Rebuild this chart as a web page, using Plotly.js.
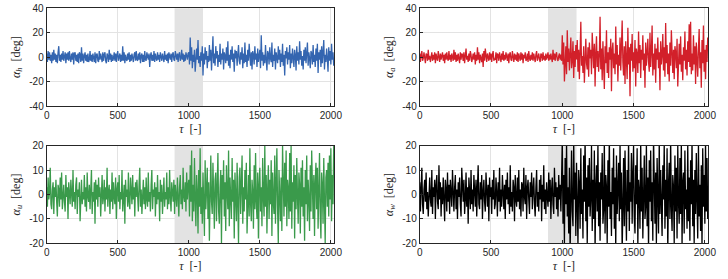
<!DOCTYPE html>
<html><head><meta charset="utf-8">
<script src="https://cdn.plot.ly/plotly-3.0.1.min.js"></script>
<style>html,body{margin:0;padding:0;background:#fff}#chart{width:728px;height:279px}</style>
</head><body><div id="chart"></div>
<script>
// sample spacing of the sampled series (tau index)
const tauStep = 5;
const shadeStart = 900, shadeEnd = 1100;
const xTicks = [0, 500, 1000, 1500, 2000];
const yTicksTop = [-40, -20, 0, 20, 40];
const yTicksBottom = [-20, -10, 0, 10, 20];

const alphaH = [
3,-4,5,-2,4,-3,2,-5,4,-3,6,-2,3,-4,2,-5,4,9,-3,2,
-4,3,-2,5,-3,1,4,-5,3,-2,4,-3,5,-1,-4,3,-2,4,-6,3,
4,-3,2,-4,3,-5,4,2,-4,8,-3,3,-5,1,4,-3,2,-4,3,-4,
-2,5,-3,2,-4,3,-1,-4,4,-5,2,3,-3,-4,5,-2,3,-3,-4,4,
-3,2,4,-3,-5,3,1,-4,6,-2,3,-4,2,-3,-1,4,-3,3,-4,2,
5,-3,1,3,-4,2,-3,9,-3,4,-5,2,-2,-3,3,-2,4,-4,2,-3,
3,-2,-4,2,4,-3,5,-2,-3,3,-2,4,-5,1,3,-4,2,-4,5,-2,
-3,4,2,-2,3,-8,1,4,-3,2,-3,5,-4,3,-1,-3,4,-2,2,-4,
4,-2,-3,3,-2,-4,5,-2,2,-3,3,-5,4,-1,-2,3,-4,2,4,-2,
-3,5,-1,-2,3,-4,2,4,-3,-1,6,-2,3,-4,2,-3,4,-1,-2,3,
4,-6,16,-3,8,-9,2,-4,6,-12,3,7,-2,14,-5,1,-8,4,-3,9,
-15,3,-6,8,-2,5,-9,1,-4,10,-3,6,-11,2,17,-5,3,-7,9,-1,
5,-8,2,-4,11,-6,3,-2,7,-10,4,1,-5,8,-3,13,-7,2,-9,6,
-2,9,-4,3,-12,6,-1,5,-7,2,10,-3,-6,4,-2,8,-9,3,-5,12,
-4,2,-8,6,-3,11,-1,-7,4,-10,5,2,-6,9,-2,3,-8,7,-4,1,
6,-9,18,-3,4,-7,2,-5,10,-2,-11,5,3,-6,8,-1,-4,12,-8,2,
-3,7,-10,4,1,-5,9,-2,6,-8,3,-4,11,-7,2,-15,5,-1,8,-6,
4,-2,10,-9,3,-5,7,-1,-8,6,2,-11,9,-3,4,-6,13,-2,5,-7,
1,-10,6,-3,8,-5,2,12,-7,4,-1,-9,5,3,-6,10,-4,2,-8,7,
-3,11,-13,4,-2,6,-8,9,-5,3,14,-10,2,-4,7,-1,-12,8,-3,5,
-6,11,-2,4,-7];

const alphaA = [
3,-4,2,5,-3,-1,4,-2,-5,3,2,-3,6,-2,1,-4,3,4,-3,2,
-2,4,-5,3,-1,-3,5,2,-4,3,-2,1,4,-3,2,-5,3,-2,4,-1,
-3,5,-2,2,-4,3,-1,-3,6,-2,4,-4,2,-3,3,-1,-5,4,-2,3,
2,-3,4,-5,3,7,-2,1,-4,3,-3,5,2,-4,-1,3,-2,4,-6,2,
-3,8,-2,4,-5,2,-1,-4,3,-8,5,-3,7,-2,-4,3,-1,-3,4,-2,
3,-4,2,5,-3,-1,-2,4,-5,3,2,-3,4,-1,-4,3,-2,5,-3,2,
-2,4,-1,-3,3,-5,2,4,-2,-3,5,-1,-4,3,-2,2,-3,4,-4,3,
-1,-3,4,-2,3,-5,2,-1,4,-3,-2,3,-4,5,-1,-3,2,-2,4,-3,
3,-2,-4,2,5,-3,1,3,-2,-4,3,2,-3,4,-2,1,-3,3,-2,2,
4,-3,2,-2,3,-1,-4,6,-2,3,-3,2,4,-2,-3,1,3,-2,2,-3,
18,-6,12,-20,3,9,-14,22,-4,7,-11,2,16,-9,-3,13,-17,5,-8,10,
-2,14,-12,6,-18,4,29,-7,1,-13,9,-21,3,15,-5,-10,8,-16,12,-1,
6,-14,20,-4,-9,11,-24,3,17,-8,5,-12,2,33,-10,7,-19,13,-3,-26,
9,-5,22,-13,4,-17,8,-2,15,-28,6,12,-9,3,-14,25,-6,10,-20,2,
-7,16,-11,5,30,-4,-15,9,-22,13,1,-18,24,-6,8,-32,11,-3,19,-12,
4,-9,14,-24,7,2,-13,21,-5,10,-17,6,-2,18,-11,3,-25,12,-7,9,
15,-4,-12,20,-8,5,26,-15,3,-10,11,-21,7,-2,16,-9,4,-27,13,-6,
2,19,-11,8,-16,28,-5,10,-14,3,-20,12,-7,22,-1,-13,6,-18,9,4,
-9,15,-24,5,11,-6,17,-12,2,-19,8,-3,21,-10,6,-15,13,-4,27,-8,
29,-14,3,-11,18,-6,9,-22,12,-2,-16,7,23,-9,4,-25,14,-5,26,-12,
6,-18,10,-4,16];

const alphaU = [
3,-5,7,-2,1,11,-4,-6,2,5,-8,3,-1,6,-3,-9,4,2,-5,7,
-2,9,-6,1,4,-3,-7,8,-1,3,-10,5,2,-4,6,-2,-5,10,-3,1,
-6,4,7,-8,2,-1,5,-11,3,6,-4,1,-2,8,-5,3,-7,9,-1,-3,
4,-6,2,10,-8,1,-3,5,-12,6,-2,4,-5,7,-1,3,-9,2,8,-4,
-1,6,-7,3,-2,11,-5,1,4,-8,2,-3,9,-6,5,-1,-4,7,-10,2,
5,-3,8,-6,1,-2,10,-7,3,4,-12,6,-1,2,-5,9,-3,-6,7,1,
-4,8,-2,3,-9,5,-1,6,-3,-7,4,11,-5,2,-8,1,6,-4,3,-6,
7,-2,-5,9,-3,1,-7,4,10,-6,2,-1,5,-9,3,-4,8,-2,1,-11,
6,-3,4,-8,2,7,-5,1,-2,9,-6,3,-4,10,-1,-7,5,2,-3,6,
-8,4,1,-5,7,-2,-9,3,8,-4,2,-6,11,-1,-3,5,-7,9,-2,4,
6,-9,12,-3,18,-11,4,-7,15,-2,-13,8,1,-16,10,-5,19,-8,3,-12,
9,-4,-17,14,-6,2,11,-10,5,-19,7,16,-3,-8,13,-1,-14,6,9,-11,
4,17,-7,-12,3,10,-20,8,-2,14,-9,5,-15,12,1,-6,18,-13,7,-4,
-10,15,-3,6,-18,9,2,-11,13,-5,-20,7,11,-8,4,16,-12,3,-7,10,
-2,13,-16,5,8,-9,19,-4,-11,6,1,-14,12,-6,17,-3,-10,9,-18,4,
11,-7,3,-13,15,-1,-9,20,-5,8,-16,2,12,-10,6,-4,14,-17,9,-3,
-8,16,-12,4,19,-6,-20,10,3,-11,7,-15,20,-2,-9,13,-5,18,-13,6,
2,-10,17,-7,20,-14,5,-3,12,-18,8,-6,15,-1,-12,9,4,-16,11,-5,
14,-9,3,-19,10,-4,16,-11,6,-2,-15,12,-7,18,-3,-10,8,-17,5,13,
-6,11,-14,2,17,-8,-18,9,4,-12,15,-3,-20,7,10,-5,13,-9,16,-2,
19,-11,8,-4,20];

const alphaW = [
5,-7,3,11,-4,-8,2,6,-3,9,-6,1,-9,4,7,-2,-5,10,-8,3,
-1,6,-10,4,8,-3,-6,12,-2,5,-9,3,-4,7,-1,-11,6,2,-7,9,
-3,4,-8,6,1,-5,10,-2,-7,3,8,-6,2,-10,5,-1,7,-4,-9,11,
4,-3,6,-8,-2,9,-5,3,-12,7,1,-6,10,-4,2,-7,8,-1,-5,6,
-9,3,12,-4,-6,5,-2,8,-10,1,6,-3,-7,9,2,-5,4,-11,7,-1,
3,-8,6,-2,10,-6,-4,7,1,-9,5,-3,11,-7,2,-5,8,-1,-6,4,
-10,6,-2,9,-4,3,-8,12,-5,1,-7,6,3,-11,8,-2,-5,7,-3,10,
-6,2,-9,5,4,-7,11,-1,-4,8,-10,3,6,-2,-8,5,-1,9,-6,2,
7,-4,-9,3,10,-5,1,-7,6,-2,8,-11,4,-3,12,-6,2,-8,5,-1,
-5,9,-3,6,-10,2,7,-4,-8,11,-1,5,-6,3,-9,8,-2,4,-7,6,
23,-12,8,-20,15,-4,21,-9,3,-16,11,-24,6,18,-7,-13,22,-2,9,-17,
13,-6,-21,10,4,-14,19,-8,2,-18,16,-3,24,-11,7,-20,12,-5,15,-9,
-1,20,-15,6,-10,18,-23,3,12,-7,21,-13,5,-19,9,-2,17,-12,-6,22,
-16,8,3,-20,14,-5,24,-10,1,-17,11,-4,19,-14,7,-22,16,-8,2,13,
-11,21,-6,9,-24,4,15,-13,18,-2,-19,10,-7,23,-15,5,-3,17,-12,8,
20,-9,-16,12,-4,19,-21,6,1,-14,22,-7,11,-18,3,16,-10,-5,21,-13,
7,-23,14,-3,18,-11,5,-19,24,-6,-12,9,-20,15,2,-16,22,-8,10,-4,
-17,12,-2,21,-14,6,-9,19,-24,4,13,-10,23,-5,-15,8,3,-20,16,-7,
11,-18,20,-3,-12,15,-8,22,-21,5,9,-16,18,-6,2,-14,21,-11,7,-19,
14,-4,23,-13,6,-20,10,-8,17,-2,-18,21,-9,4,-15,12,-22,19,-5,8,
-12,20,-7,15,-10];

const labels = ['h','a','u','w'];
const seriesList = [alphaH, alphaA, alphaU, alphaW];
const colors = ['#3465b0', '#d2202a', '#3a9a4b', '#000000'];

const tau = arr => arr.map((_, i) => i * tauStep);

const traces = seriesList.map((s, k) => ({
  x: tau(s), y: s, type: 'scatter', mode: 'lines',
  line: {color: colors[k], width: 1.3},
  xaxis: k === 0 ? 'x' : 'x' + (k + 1),
  yaxis: k === 0 ? 'y' : 'y' + (k + 1),
  hoverinfo: 'skip', showlegend: false
}));

const W = 728, H = 279;
const colX = [[46.7, 334], [419.7, 708]];
const rowY = [[8.3, 106], [145.7, 243.3]];
const tickFont = {family: 'Liberation Sans, Arial, sans-serif', size: 10, color: '#262626'};
const titleFont = {family: 'Liberation Serif, DejaVu Serif, serif', size: 12, color: '#262626'};

const layout = {
  width: W, height: H,
  margin: {l: 0, r: 0, t: 0, b: 0},
  paper_bgcolor: '#fff', plot_bgcolor: '#fff',
  shapes: []
};

for (let k = 0; k < 4; k++) {
  const c = k % 2, r = Math.floor(k / 2);
  const xn = k === 0 ? 'xaxis' : 'xaxis' + (k + 1);
  const yn = k === 0 ? 'yaxis' : 'yaxis' + (k + 1);
  const xr = k === 0 ? 'x' : 'x' + (k + 1);
  const yr = k === 0 ? 'y' : 'y' + (k + 1);
  const yt = r === 0 ? yTicksTop : yTicksBottom;
  layout[xn] = {
    domain: [colX[c][0] / W, colX[c][1] / W],
    anchor: yr, range: [0, 2022],
    tickvals: xTicks, ticktext: xTicks.map(String),
    showgrid: true, gridcolor: '#e3e3e3', gridwidth: 1,
    showline: true, linecolor: '#262626', linewidth: 1, mirror: true,
    ticks: 'inside', ticklen: 3, tickcolor: '#262626',
    tickfont: tickFont, zeroline: false,
    title: {text: '<i>τ</i>  [-]', font: titleFont, standoff: 4}
  };
  layout[yn] = {
    domain: [1 - rowY[r][1] / H, 1 - rowY[r][0] / H],
    anchor: xr, range: [yt[0], yt[yt.length - 1]],
    tickvals: yt, ticktext: yt.map(String),
    showgrid: true, gridcolor: '#e3e3e3', gridwidth: 1,
    showline: true, linecolor: '#262626', linewidth: 1, mirror: true,
    ticks: 'inside', ticklen: 3, tickcolor: '#262626',
    tickfont: tickFont, zeroline: false,
    title: {text: '<i>α</i><sub><i>' + labels[k] + '</i></sub>  [deg]', font: titleFont, standoff: 6}
  };
  layout.shapes.push({
    type: 'rect', xref: xr, yref: yr + ' domain',
    x0: shadeStart, x1: shadeEnd, y0: 0, y1: 1,
    fillcolor: '#e3e3e3', line: {width: 0}, layer: 'below'
  });
}

Plotly.newPlot('chart', traces, layout, {staticPlot: true, displayModeBar: false});
</script>
</body></html>
